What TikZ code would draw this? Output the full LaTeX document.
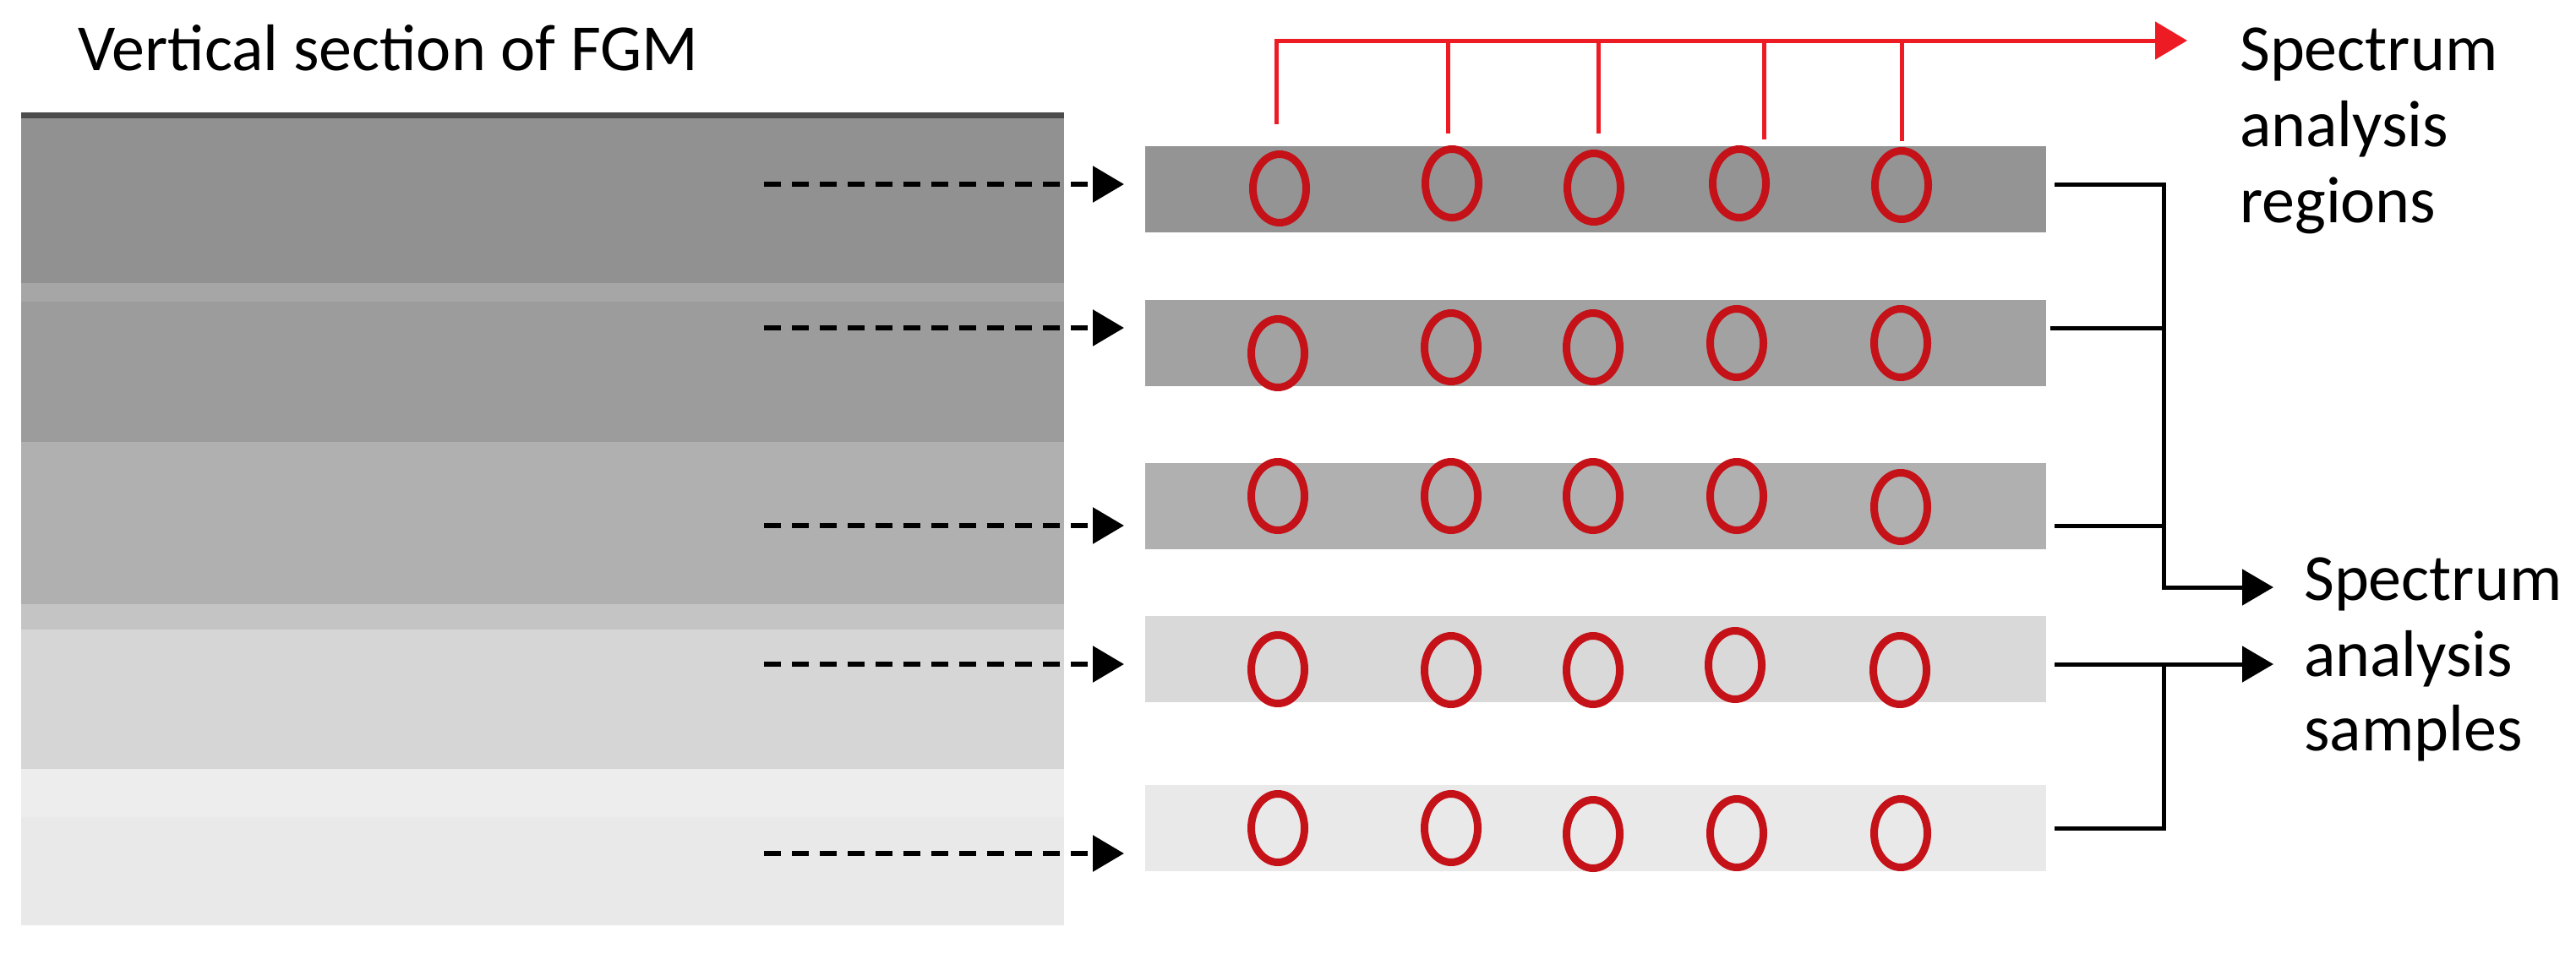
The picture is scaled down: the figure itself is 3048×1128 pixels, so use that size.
\documentclass[tikz,border=0pt]{standalone}
\usepackage{fontspec}
\setmainfont{Carlito}
\usetikzlibrary{arrows.meta,shapes.geometric}
\definecolor{ringred}{RGB}{196,18,24}
\definecolor{treered}{RGB}{237,28,36}
\definecolor{topline}{gray}{0.30}
\definecolor{bandA}{gray}{0.57}
\definecolor{stripeA}{gray}{0.65}
\definecolor{bandB}{gray}{0.61}
\definecolor{bandC}{gray}{0.69}
\definecolor{stripeC}{gray}{0.77}
\definecolor{bandD}{gray}{0.84}
\definecolor{stripeD}{gray}{0.93}
\definecolor{bandE}{gray}{0.915}
\definecolor{stripS1}{gray}{0.58}
\definecolor{stripS2}{gray}{0.635}
\definecolor{stripS3}{gray}{0.69}
\definecolor{stripS4}{gray}{0.85}
\definecolor{stripS5}{gray}{0.915}
\tikzset{
  bigtext/.style={font=\fontsize{78}{90}\selectfont, inner sep=0pt, anchor=base west},
  stripbox/.style={draw=none, inner sep=0pt, minimum width=1066pt, minimum height=102pt, anchor=north west},
  ring/.style={ellipse, draw=ringred, line width=9pt, inner sep=0pt, minimum width=63pt, minimum height=81pt},
  treeline/.style={draw=treered, line width=5pt},
  blkline/.style={draw=black, line width=5pt},
  dasharrow/.style={draw=black, line width=6pt, dash pattern=on 20pt off 13pt, -{Triangle[length=37pt,width=42pt]}},
  blkarrow/.style={-{Triangle[length=37pt,width=42pt]}},
}
\begin{document}
\begin{tikzpicture}[x=1pt,y=-1pt]
\useasboundingbox (0,0) rectangle (3048,1128);

% title
\node[bigtext] (title) at (92,83) {Vertical section of FGM};

% left FGM section (layers)
\fill[bandA] (25,136) rectangle (1259,335);
\fill[stripeA] (25,335) rectangle (1259,357);
\fill[bandB] (25,357) rectangle (1259,523);
\fill[bandC] (25,523) rectangle (1259,715);
\fill[stripeC] (25,715) rectangle (1259,745);
\fill[bandD] (25,745) rectangle (1259,910);
\fill[stripeD] (25,910) rectangle (1259,967);
\fill[bandE] (25,967) rectangle (1259,1095);
\fill[topline] (25,133) rectangle (1259,140);

% right strips
\node[stripbox, fill=stripS1] (s1) at (1355,173) {};
\node[stripbox, fill=stripS2] (s2) at (1355,355) {};
\node[stripbox, fill=stripS3] (s3) at (1355,548) {};
\node[stripbox, fill=stripS4] (s4) at (1355,729) {};
\node[stripbox, fill=stripS5] (s5) at (1355,929) {};

% rings
\foreach \n/\x/\y in {
  11/1514/223, 12/1718/217, 13/1886/222, 14/2058/217, 15/2250/219,
  21/1512/418, 22/1717/411, 23/1885/411, 24/2055/406, 25/2249/406,
  31/1512/587, 32/1717/587, 33/1885/587, 34/2055/587, 35/2249/600,
  41/1512/792, 42/1717/793, 43/1885/793, 44/2053/787, 45/2248/793,
  51/1512/980, 52/1717/980, 53/1885/987, 54/2055/986, 55/2249/986}
  \node[ring] (e\n) at (\x,\y) {};

% dashed arrows
\foreach \k/\y in {1/218, 2/388, 3/622, 4/786, 5/1010} {
  \coordinate (ds\k) at (904,\y);
  \coordinate (de\k) at (1330,\y);
  \draw[dasharrow] (ds\k) -- (de\k);
}

% red tree
\coordinate (r1) at (1510,147);
\coordinate (r1t) at (1510,48);
\coordinate (rtip) at (2588,48);
\coordinate (r2) at (1713,158);
\coordinate (r2t) at (1713,48);
\coordinate (r3) at (1891,158);
\coordinate (r3t) at (1891,48);
\coordinate (r4) at (2087,165);
\coordinate (r4t) at (2087,48);
\coordinate (r5) at (2250,167);
\coordinate (r5t) at (2250,48);
\draw[treeline, line join=miter, -{Triangle[length=38pt,width=44pt]}, treered] (r1) -- (r1t) -- (rtip);
\foreach \k in {2,3,4,5} \draw[treeline] (r\k t) -- (r\k);

% black connectors, upper group
\coordinate (b1) at (2431,218);
\coordinate (b2) at (2426,388);
\coordinate (b3) at (2431,622);
\coordinate (bv1) at (2560,218);
\coordinate (bv2) at (2560,388);
\coordinate (bv3) at (2560,622);
\coordinate (bbend) at (2560,695);
\coordinate (btip1) at (2690,695);
\draw[blkline, line join=miter, blkarrow] (b1) -- (bv1) -- (bbend) -- (btip1);
\draw[blkline] (b2) -- (bv2);
\draw[blkline] (b3) -- (bv3);

% black connectors, lower group
\coordinate (b4) at (2431,786);
\coordinate (b5) at (2431,980);
\coordinate (bv4) at (2560,786);
\coordinate (bv5) at (2560,980);
\coordinate (btip2) at (2690,786);
\draw[blkline, blkarrow] (b4) -- (btip2);
\draw[blkline, line join=miter] (bv4) -- (bv5) -- (b5);

% labels
\node[bigtext] (reg1) at (2650,83) {Spectrum};
\node[bigtext] (reg2) at (2650,173) {analysis};
\node[bigtext] (reg3) at (2650,263) {regions};
\node[bigtext] (smp1) at (2726,710) {Spectrum};
\node[bigtext] (smp2) at (2726,800) {analysis};
\node[bigtext] (smp3) at (2726,888) {samples};
\end{tikzpicture}
\end{document}
